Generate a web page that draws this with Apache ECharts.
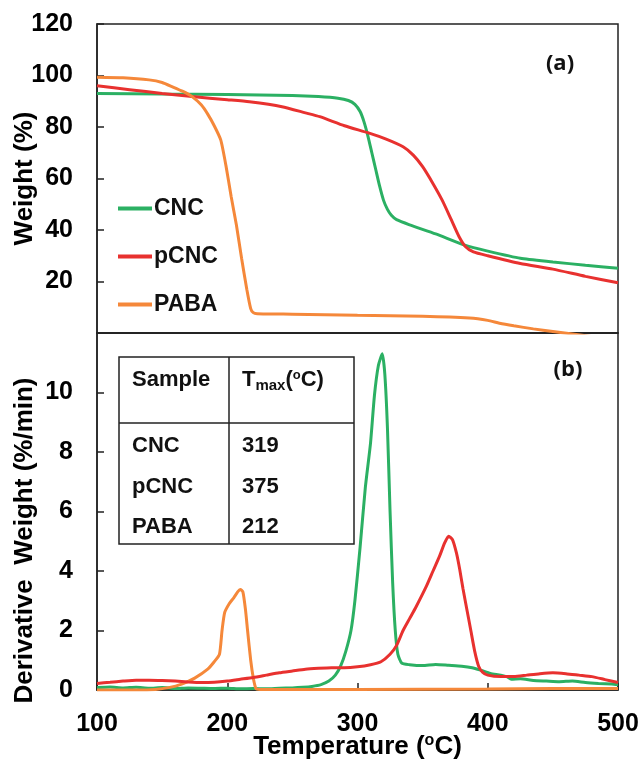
<!DOCTYPE html>
<html>
<head>
<meta charset="utf-8">
<script src="https://cdn.jsdelivr.net/npm/echarts@6/dist/echarts.min.js"></script>
<style>html,body{margin:0;padding:0;background:#fff;}#c{width:641px;height:768px;}</style>
</head>
<body>
<div id="c"></div>
<script>
// ---- data ----
var sampleNames = ['CNC', 'pCNC', 'PABA'];
var tmaxValues = [319, 375, 212];
var xTicks = [100, 200, 300, 400, 500];

var tgaCNC = [[100,93.0],[150,92.8],[200,92.6],[250,92.2],[270,91.8],[285,91.2],[293,90.3],[298,88.8],[302,86],[305,82],[308,76.5],[311,70],[314,63.5],[317,57],[320,51.5],[323,48],[326,45.7],[330,44],[340,42],[360,38.5],[383,34],[400,31.8],[425,29],[450,27.6],[475,26.3],[500,25.1]];
var tgaPCNC = [[100,96],[125,94.5],[150,93],[173,91.8],[200,90.6],[217,89.8],[242,87.9],[260,85.5],[271,84],[290,80.5],[309,77.6],[322,75.3],[335,72.3],[343,69],[350,64.6],[358,58],[365,51.6],[372,44],[378,37.4],[383,33.5],[389,31.5],[400,30],[425,27],[450,24.8],[475,22],[500,19.5]];
var tgaPABA = [[100,99.3],[120,99.1],[140,98.3],[150,97.3],[158,95.6],[166,93.8],[173,91.8],[180,88.6],[185,85],[190,80.5],[195,75],[199,65],[203,53],[207,42],[211,29],[215,17],[218,9.5],[220,7.9],[223,7.5],[250,7.3],[300,6.9],[350,6.5],[386,5.8],[400,4.9],[409,3.8],[420,2.8],[435,1.6],[450,0.6],[465,-0.4],[480,-1.4],[500,-2.6]];

var dtgCNC = [[100,0.08],[110,0.1],[120,0.07],[130,0.09],[140,0.06],[150,0.08],[160,0.05],[170,0.07],[180,0.06],[190,0.05],[200,0.06],[210,0.04],[220,0.05],[230,0.04],[240,0.06],[250,0.07],[258,0.09],[265,0.12],[272,0.18],[278,0.3],[283,0.5],[287,0.8],[291,1.3],[295,2.0],[298,3.0],[302,4.8],[306,6.8],[310,8.3],[313,9.9],[316,10.9],[319,11.3],[321,10.6],[323,8.8],[325,6.0],[327,3.6],[329,2.0],[331,1.2],[334,0.9],[340,0.85],[350,0.82],[360,0.86],[370,0.83],[380,0.8],[388,0.75],[395,0.66],[402,0.56],[410,0.5],[415,0.44],[418,0.36],[425,0.38],[435,0.32],[445,0.3],[455,0.28],[465,0.3],[475,0.25],[485,0.22],[495,0.2],[500,0.18]];
var dtgPCNC = [[100,0.22],[110,0.26],[120,0.3],[130,0.33],[140,0.33],[150,0.32],[160,0.3],[170,0.27],[180,0.25],[190,0.26],[200,0.3],[210,0.36],[220,0.42],[230,0.5],[240,0.58],[250,0.64],[260,0.7],[270,0.73],[280,0.75],[290,0.75],[300,0.78],[310,0.85],[318,0.95],[325,1.2],[330,1.5],[335,2.0],[340,2.4],[345,2.8],[353,3.5],[358,4.0],[363,4.5],[367,4.95],[370,5.17],[373,5.05],[376,4.6],[378.5,4.05],[381,3.4],[384,2.7],[387,2.0],[390,1.3],[393,0.8],[396,0.6],[400,0.5],[410,0.45],[420,0.45],[430,0.5],[440,0.55],[450,0.58],[460,0.55],[470,0.5],[480,0.45],[490,0.35],[500,0.25]];
var dtgPABA = [[100,0.0],[130,0.0],[145,0.02],[155,0.08],[165,0.2],[175,0.4],[185,0.7],[190,0.95],[194,1.2],[196,2.0],[198,2.6],[201.5,2.9],[205,3.1],[208,3.3],[210,3.38],[212,3.3],[214,2.7],[215.6,2.0],[218,1.0],[220,0.4],[222,0.05],[225,0.02],[250,0.02],[300,0.02],[400,0.03],[450,0.05],[500,0.05]];

// ---- styles ----
var colors = {CNC: '#2bb063', pCNC: '#e8312f', PABA: '#f5883a'};
var FONT = 'Liberation Sans, Arial, sans-serif';
var tickFont = {fontFamily: FONT, fontWeight: 'bold', fontSize: 25, color: '#000'};
var nameFont = {fontFamily: FONT, fontWeight: 'bold', fontSize: 26, color: '#000'};

function lineSeries(name, data, idx) {
  return {
    name: name, type: 'line', data: data, xAxisIndex: idx, yAxisIndex: idx,
    showSymbol: false, symbol: 'none', smooth: 0.2,
    lineStyle: {color: colors[name], width: 3}, itemStyle: {color: colors[name]},
    clip: true, z: 3
  };
}

var chart = echarts.init(document.getElementById('c'), null, {renderer: 'canvas'});

// table graphic
var tbl = {left: 119, right: 354, top: 357, mid: 423, bottom: 544, colX: 229};
var rowY = [446, 487, 527];
var graphics = [
  {type: 'rect', shape: {x: tbl.left, y: tbl.top, width: tbl.right - tbl.left, height: tbl.bottom - tbl.top}, style: {fill: '#fff', stroke: '#222', lineWidth: 1.5}, z: 10},
  {type: 'line', shape: {x1: tbl.colX, y1: tbl.top, x2: tbl.colX, y2: tbl.bottom}, style: {stroke: '#222', lineWidth: 1.5}, z: 11},
  {type: 'line', shape: {x1: tbl.left, y1: tbl.mid, x2: tbl.right, y2: tbl.mid}, style: {stroke: '#222', lineWidth: 1.5}, z: 11},
  {type: 'text', x: 132, y: 380, style: {text: 'Sample', font: 'bold 22px ' + FONT, fill: '#111', verticalAlign: 'middle'}, z: 12},
  {type: 'text', x: 242, y: 380, style: {text: '{t|T}{s|max}{t|(}{o|o}{t|C)}', verticalAlign: 'middle', fill: '#111',
    rich: {t: {fontFamily: FONT, fontWeight: 'bold', fontSize: 22, fill: '#111'},
           s: {fontFamily: FONT, fontWeight: 'bold', fontSize: 15, fill: '#111', padding: [12, 0, 0, 0]},
           o: {fontFamily: FONT, fontWeight: 'bold', fontSize: 13, fill: '#111', padding: [0, 0, 10, 0]}}}, z: 12},
  {type: 'text', x: 560, y: 64, style: {text: '(a)', font: 'bold 22px Open Sans, sans-serif', fill: '#111', align: 'center', verticalAlign: 'middle'}, z: 12},
  {type: 'text', x: 568, y: 370, style: {text: '(b)', font: 'bold 22px Open Sans, sans-serif', fill: '#111', align: 'center', verticalAlign: 'middle'}, z: 12}
];
sampleNames.forEach(function (n, i) {
  graphics.push({type: 'text', x: 132, y: rowY[i], style: {text: n, font: 'bold 22px ' + FONT, fill: '#111', verticalAlign: 'middle'}, z: 12});
  graphics.push({type: 'text', x: 242, y: rowY[i], style: {text: String(tmaxValues[i]), font: 'bold 22px ' + FONT, fill: '#111', verticalAlign: 'middle'}, z: 12});
});

var option = {
  animation: false,
  backgroundColor: '#fff',
  grid: [
    {left: 97, right: 23, top: 24, height: 309, show: true, borderColor: '#222', borderWidth: 1.5, backgroundColor: 'transparent', outerBoundsMode: 'none', containLabel: false},
    {left: 97, right: 23, top: 333, height: 357, show: true, borderColor: '#222', borderWidth: 1.5, backgroundColor: 'transparent', outerBoundsMode: 'none', containLabel: false}
  ],
  legend: {
    data: sampleNames, orient: 'vertical', left: 118, top: 197, padding: 0,
    icon: 'rect', itemWidth: 34, itemHeight: 4, itemGap: 25,
    textStyle: {fontFamily: FONT, fontWeight: 'bold', fontSize: 23, color: '#111', padding: [0, 0, 0, -3]}
  },
  xAxis: [
    {type: 'value', gridIndex: 0, min: xTicks[0], max: xTicks[xTicks.length - 1], interval: 100,
     axisLine: {show: true, lineStyle: {color: '#222', width: 1.5}}, axisTick: {show: false}, axisLabel: {show: false}, splitLine: {show: false}},
    {type: 'value', gridIndex: 1, min: xTicks[0], max: xTicks[xTicks.length - 1], interval: 100,
     name: '{n|Temperature (}{o|o}{n|C)}', nameLocation: 'middle', nameGap: 43, nameMoveOverlap: false,
     nameTextStyle: {rich: {n: nameFont, o: {fontFamily: FONT, fontWeight: 'bold', fontSize: 16, color: '#000', padding: [0, 0, 12, 0]}}},
     axisLine: {show: true, lineStyle: {color: '#222', width: 1.5}},
     axisTick: {show: true, inside: true, length: 7, lineStyle: {color: '#222', width: 1.5}},
     axisLabel: Object.assign({margin: 22}, tickFont), splitLine: {show: false}}
  ],
  yAxis: [
    {type: 'value', gridIndex: 0, min: 0, max: 120, interval: 20, name: 'Weight (%)', nameLocation: 'middle', nameGap: 59, nameMoveOverlap: false,
     nameTextStyle: nameFont,
     axisLine: {show: true, lineStyle: {color: '#222', width: 1.5}},
     axisTick: {show: true, inside: true, length: 7, lineStyle: {color: '#222', width: 1.5}},
     axisLabel: Object.assign({margin: 24, showMinLabel: false}, tickFont), splitLine: {show: false}},
    {type: 'value', gridIndex: 1, min: 0, max: 12, interval: 2, name: 'Derivative  Weight (%/min)', nameLocation: 'middle', nameGap: 59, nameMoveOverlap: false,
     nameTextStyle: Object.assign({padding: [0, 58, 0, 0]}, nameFont),
     axisLine: {show: true, lineStyle: {color: '#222', width: 1.5}},
     axisTick: {show: true, inside: true, length: 7, lineStyle: {color: '#222', width: 1.5}},
     axisLabel: Object.assign({margin: 24, showMaxLabel: false}, tickFont), splitLine: {show: false}}
  ],
  series: [
    lineSeries('CNC', tgaCNC, 0),
    lineSeries('pCNC', tgaPCNC, 0),
    lineSeries('PABA', tgaPABA, 0),
    lineSeries('CNC', dtgCNC, 1),
    lineSeries('PABA', dtgPABA, 1),
    lineSeries('pCNC', dtgPCNC, 1)
  ],
  graphic: graphics
};
chart.setOption(option);
</script>
</body>
</html>
